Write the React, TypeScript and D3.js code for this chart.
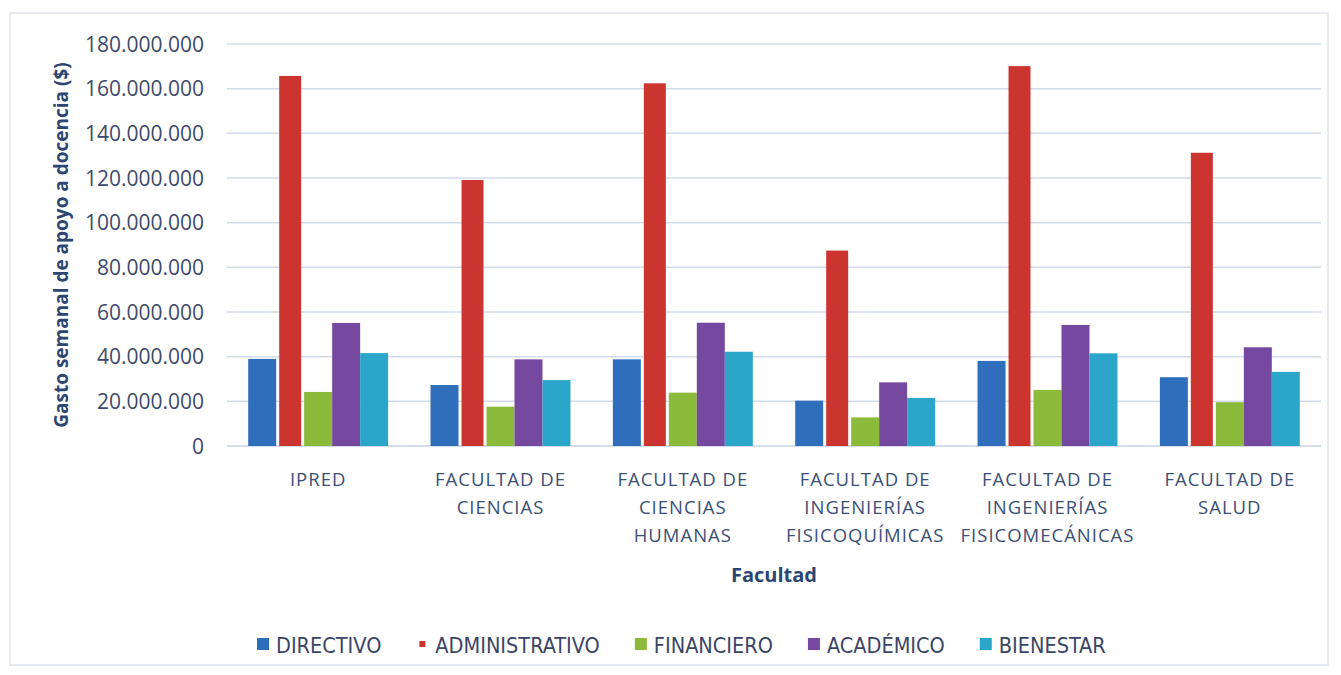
import React, { useEffect, useRef } from "react";
import * as d3 from "d3";

const categories = ["IPRED", "FACULTAD DE CIENCIAS", "FACULTAD DE CIENCIAS HUMANAS", "FACULTAD DE INGENIERÍAS FISICOQUÍMICAS", "FACULTAD DE INGENIERÍAS FISICOMECÁNICAS", "FACULTAD DE SALUD"];
const categoryLines = [
  ["IPRED"],
  ["FACULTAD DE", "CIENCIAS"],
  ["FACULTAD DE", "CIENCIAS", "HUMANAS"],
  ["FACULTAD DE", "INGENIERÍAS", "FISICOQUÍMICAS"],
  ["FACULTAD DE", "INGENIERÍAS", "FISICOMECÁNICAS"],
  ["FACULTAD DE", "SALUD"],
];
const seriesNames = ["DIRECTIVO", "ADMINISTRATIVO", "FINANCIERO", "ACADÉMICO", "BIENESTAR"];
const directivo = [39000000, 27300000, 38800000, 20300000, 38100000, 30800000];
const administrativo = [165700000, 119100000, 162400000, 87500000, 170100000, 131300000];
const financiero = [24200000, 17600000, 23900000, 12800000, 25100000, 19600000];
const academico = [55100000, 38800000, 55200000, 28500000, 54200000, 44200000];
const bienestar = [41600000, 29500000, 42200000, 21500000, 41500000, 33200000];
const seriesValues = [directivo, administrativo, financiero, academico, bienestar];
const colors = ["#2F6EBA", "#CC3430", "#8CBB3C", "#7649A0", "#2BA5C9"];
const yTicks = [0, 20000000, 40000000, 60000000, 80000000, 100000000, 120000000, 140000000, 160000000, 180000000];

const W = 1341, H = 675;
const plot = { left: 227, right: 1321, top: 44, bottom: 446 };

const fmt = (v: number) => (v === 0 ? "0" : d3.format(",")(v).replace(/,/g, "."));

export default function App() {
  const legendRef = useRef<SVGGElement>(null);

  const x0 = d3.scaleBand<string>().domain(categories).range([plot.left, plot.right]).paddingInner(0.2325).paddingOuter(0.11625);
  const x1 = d3.scaleBand<string>().domain(seriesNames).range([0, x0.bandwidth()]);
  const y = d3.scaleLinear().domain([0, 180000000]).range([plot.bottom, plot.top]);

  useEffect(() => {
    const g = d3.select(legendRef.current);
    g.selectAll("*").remove();
    let x = 257;
    seriesNames.forEach((name, i) => {
      const isRed = i === 1;
      const sz = isRed ? 6 : 12;
      g.append("rect")
        .attr("x", x + (12 - sz) / 2)
        .attr("y", 638 + (12 - sz) / 2)
        .attr("width", sz)
        .attr("height", sz)
        .attr("fill", colors[i]);
      const t = g.append("text")
        .attr("x", x + 19)
        .attr("y", 652.5)
        .attr("font-family", "'DejaVu Sans Condensed', 'DejaVu Sans', sans-serif")
        .attr("font-stretch", "condensed")
        .attr("font-size", 21.5)
        .attr("fill", "#3A4566")
        .text(name);
      const w = (t.node() as SVGTextElement).getComputedTextLength();
      x = x + 19 + w + 35;
    });
  }, []);

  return (
    <svg width={W} height={H} style={{ position: "absolute", left: 0, top: 0, background: "#fff" }}>
      <rect x={10} y={13} width={1318} height={652} fill="#fff" stroke="#dfe4ec" strokeWidth={1.5} />
      {yTicks.map((t) => (
        <line key={t} x1={plot.left} x2={plot.right} y1={y(t)} y2={y(t)} stroke={t === 0 ? "#c8d2e2" : "#d3dcea"} strokeWidth={1.5} />
      ))}
      {yTicks.map((t) => (
        <text key={"l" + t} x={204} y={y(t) + 7.5} textAnchor="end" fontFamily="'Open Sans', sans-serif" fontSize={21} fill="#3D4A6B">
          {fmt(t)}
        </text>
      ))}
      {categories.map((c, ci) => (
        <g key={c} transform={`translate(${x0(c)},0)`}>
          {seriesNames.map((s, si) => {
            const v = seriesValues[si][ci];
            const inset = si === 1 ? 3 : 0;
            return (
              <rect
                key={s}
                x={(x1(s) as number) + inset}
                y={y(v)}
                width={x1.bandwidth() - inset * 2}
                height={y(0) - y(v)}
                fill={colors[si]}
              />
            );
          })}
        </g>
      ))}
      {categories.map((c, ci) => (
        <text key={"c" + c} textAnchor="middle" fontFamily="'Open Sans', sans-serif" fontSize={18.5} letterSpacing={1} fill="#3A4F76">
          {categoryLines[ci].map((ln, li) => (
            <tspan key={li} x={(x0(c) as number) + x0.bandwidth() / 2} y={486 + li * 28}>
              {ln}
            </tspan>
          ))}
        </text>
      ))}
      <text x={774} y={582} textAnchor="middle" fontFamily="'Open Sans', sans-serif" fontWeight="bold" fontSize={20} fill="#2B4673">
        Facultad
      </text>
      <text
        transform={`translate(68,${(plot.top + plot.bottom) / 2}) rotate(-90)`}
        textAnchor="middle"
        fontFamily="'Open Sans', sans-serif"
        fontWeight="bold"
        fontSize={19}
        fill="#2B4673"
      >
        Gasto semanal de apoyo a docencia ($)
      </text>
      <g ref={legendRef} />
    </svg>
  );
}
